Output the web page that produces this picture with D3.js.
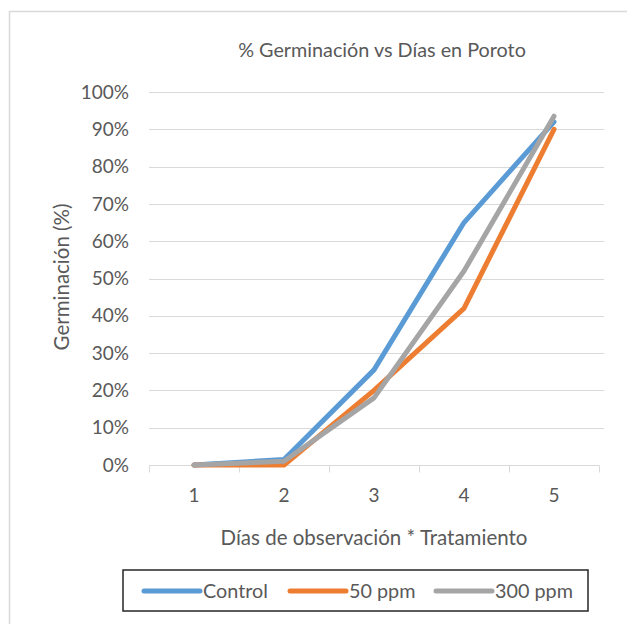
<!DOCTYPE html>
<html>
<head>
<meta charset="utf-8">
<script src="https://cdn.jsdelivr.net/npm/d3@7"></script>
<style>
  body { margin: 0; background: #fff; }
  text { font-family: Lato, "Open Sans", "Liberation Sans", sans-serif; fill: #595959; }
</style>
</head>
<body>
<div id="container"></div>
<script>
const days = ["1", "2", "3", "4", "5"];
const control = [0, 0.015, 0.255, 0.65, 0.92];
const ppm50 = [0, 0, 0.20, 0.42, 0.90];
const ppm300 = [0, 0.01, 0.18, 0.52, 0.935];
const seriesNames = ["Control", "50 ppm", "300 ppm"];
const seriesColors = ["#5B9BD5", "#ED7D31", "#A5A5A5"];
const yTicks = [0, 0.1, 0.2, 0.3, 0.4, 0.5, 0.6, 0.7, 0.8, 0.9, 1];

const WIDTH = 627;
const HEIGHT = 624;

const series = [control, ppm50, ppm300].map((vals, i) => ({
  name: seriesNames[i],
  color: seriesColors[i],
  values: vals
}));

let svg = d3.select("#container")
  .append("svg")
  .attr("width", WIDTH)
  .attr("height", HEIGHT);

// light frame of the chart area (top and left edges visible)
svg.append("path")
  .attr("d", "M9.5,624 V11.5 H627")
  .attr("fill", "none")
  .attr("stroke", "#d9d9d9")
  .attr("stroke-width", 1.5);

const x = d3.scaleBand()
  .domain(days)
  .range([149, 599]);

const y = d3.scaleLinear()
  .domain([0, 1])
  .range([465, 92]);

// gridlines
svg.selectAll("line.grid")
  .data(yTicks.slice(1))
  .enter()
  .append("line")
  .attr("class", "grid")
  .attr("x1", 149)
  .attr("x2", 604)
  .attr("y1", d => Math.round(y(d)) + 0.5)
  .attr("y2", d => Math.round(y(d)) + 0.5)
  .attr("stroke", "#d9d9d9")
  .attr("stroke-width", 1);

// y axis labels
svg.selectAll("text.ylab")
  .data(yTicks)
  .enter()
  .append("text")
  .attr("class", "ylab")
  .attr("x", 129)
  .attr("y", d => y(d))
  .attr("dy", "0.35em")
  .attr("text-anchor", "end")
  .style("font-size", "19px")
  .text(d => d3.format(".0%")(d));

// x axis with tick marks at band edges
let xAxis = svg.append("g")
  .attr("transform", "translate(0," + (Math.round(y(0)) + 0.5) + ")");

xAxis.append("line")
  .attr("x1", 149).attr("x2", 599)
  .attr("stroke", "#d9d9d9");

xAxis.selectAll("line.tick")
  .data(days.map(d => x(d)).concat([x.range()[1]]))
  .enter()
  .append("line")
  .attr("class", "tick")
  .attr("x1", d => d + 0.5).attr("x2", d => d + 0.5)
  .attr("y1", 0).attr("y2", 7)
  .attr("stroke", "#d9d9d9");

xAxis.selectAll("text")
  .data(days)
  .enter()
  .append("text")
  .attr("x", d => x(d) + x.bandwidth() / 2)
  .attr("y", 30)
  .attr("dy", "0.35em")
  .attr("text-anchor", "middle")
  .style("font-size", "19px")
  .text(d => d);

// lines
const line = d3.line()
  .x((d, i) => x(days[i]) + x.bandwidth() / 2)
  .y(d => y(d));

svg.selectAll("path.series")
  .data(series)
  .enter()
  .append("path")
  .attr("class", "series")
  .attr("d", d => line(d.values))
  .attr("fill", "none")
  .attr("stroke", d => d.color)
  .attr("stroke-width", 5)
  .attr("stroke-linejoin", "round")
  .attr("stroke-linecap", "round");

// titles
svg.append("text")
  .attr("x", 382)
  .attr("y", 50)
  .attr("dy", "0.35em")
  .attr("text-anchor", "middle")
  .style("font-size", "19.8px")
  .text("% Germinación vs Días en Poroto");

svg.append("text")
  .attr("x", 374)
  .attr("y", 538)
  .attr("dy", "0.35em")
  .attr("text-anchor", "middle")
  .style("font-size", "20.5px")
  .text("Días de observación * Tratamiento");

svg.append("text")
  .attr("transform", "translate(62,277) rotate(-90)")
  .attr("dy", "0.35em")
  .attr("text-anchor", "middle")
  .style("font-size", "20.5px")
  .text("Germinación (%)");

// legend
let legend = svg.append("g");

legend.append("rect")
  .attr("x", 123)
  .attr("y", 570)
  .attr("width", 465)
  .attr("height", 41)
  .attr("fill", "none")
  .attr("stroke", "#262626")
  .attr("stroke-width", 1.5);

const legendX = [144, 290, 436];

let items = legend.selectAll("g.item")
  .data(series)
  .enter()
  .append("g")
  .attr("class", "item")
  .attr("transform", (d, i) => "translate(" + legendX[i] + ",591)");

items.append("line")
  .attr("x1", 0).attr("x2", 56)
  .attr("stroke", d => d.color)
  .attr("stroke-width", 5)
  .attr("stroke-linecap", "round");

items.append("text")
  .attr("x", 59)
  .attr("dy", "0.35em")
  .style("font-size", "19.8px")
  .text(d => d.name);
</script>
</body>
</html>
